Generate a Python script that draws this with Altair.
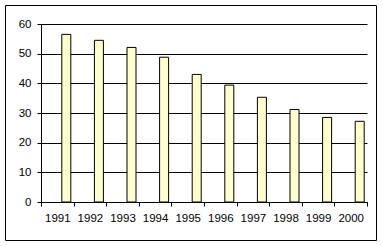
import altair as alt
import pandas as pd

years = ["1991", "1992", "1993", "1994", "1995", "1996", "1997", "1998", "1999", "2000"]
values = [56.5, 54.5, 52.1, 48.8, 43.0, 39.4, 35.3, 31.2, 28.5, 27.2]
y_ticks = [0, 10, 20, 30, 40, 50, 60]

df = pd.DataFrame({"year": years, "value": values})

W, H = 326, 178

bars = alt.Chart(df).mark_bar(
    fill="#FFFFCC", stroke="black", strokeWidth=1, width=9, xOffset=9
).encode(
    x=alt.X("year:N", sort=years,
            scale=alt.Scale(paddingInner=0, paddingOuter=0),
            axis=alt.Axis(title=None, labelAngle=0, tickBand="extent", ticks=True,
                          tickSize=4, tickColor="black", domainColor="black",
                          labelFont="Liberation Sans", labelFontSize=11.5,
                          labelColor="black", labelPadding=6, grid=False)),
    y=alt.Y("value:Q",
            scale=alt.Scale(domain=[0, 60], nice=False),
            axis=alt.Axis(title=None, values=y_ticks, tickSize=4, tickColor="black",
                          domainColor="black", gridColor="black", gridOpacity=1,
                          labelFont="Liberation Sans", labelFontSize=11.5,
                          labelColor="black", labelPadding=6)),
)

border = alt.Chart(df).mark_rect(
    fill=None, stroke="black", strokeWidth=1
).encode(
    x=alt.value(-35.5), x2=alt.value(335.5), y=alt.value(-18.5), y2=alt.value(216.5)
).transform_filter(alt.datum.year == "1991")

chart = alt.layer(bars, border).properties(
    width=W, height=H,
    padding={"left": 41, "top": 24, "right": 16, "bottom": 44},
    autosize=alt.AutoSizeParams(type="none"),
    background="white",
).configure_view(stroke=None)

chart.save("out.html", embed_options={"renderer": "svg", "actions": False})
